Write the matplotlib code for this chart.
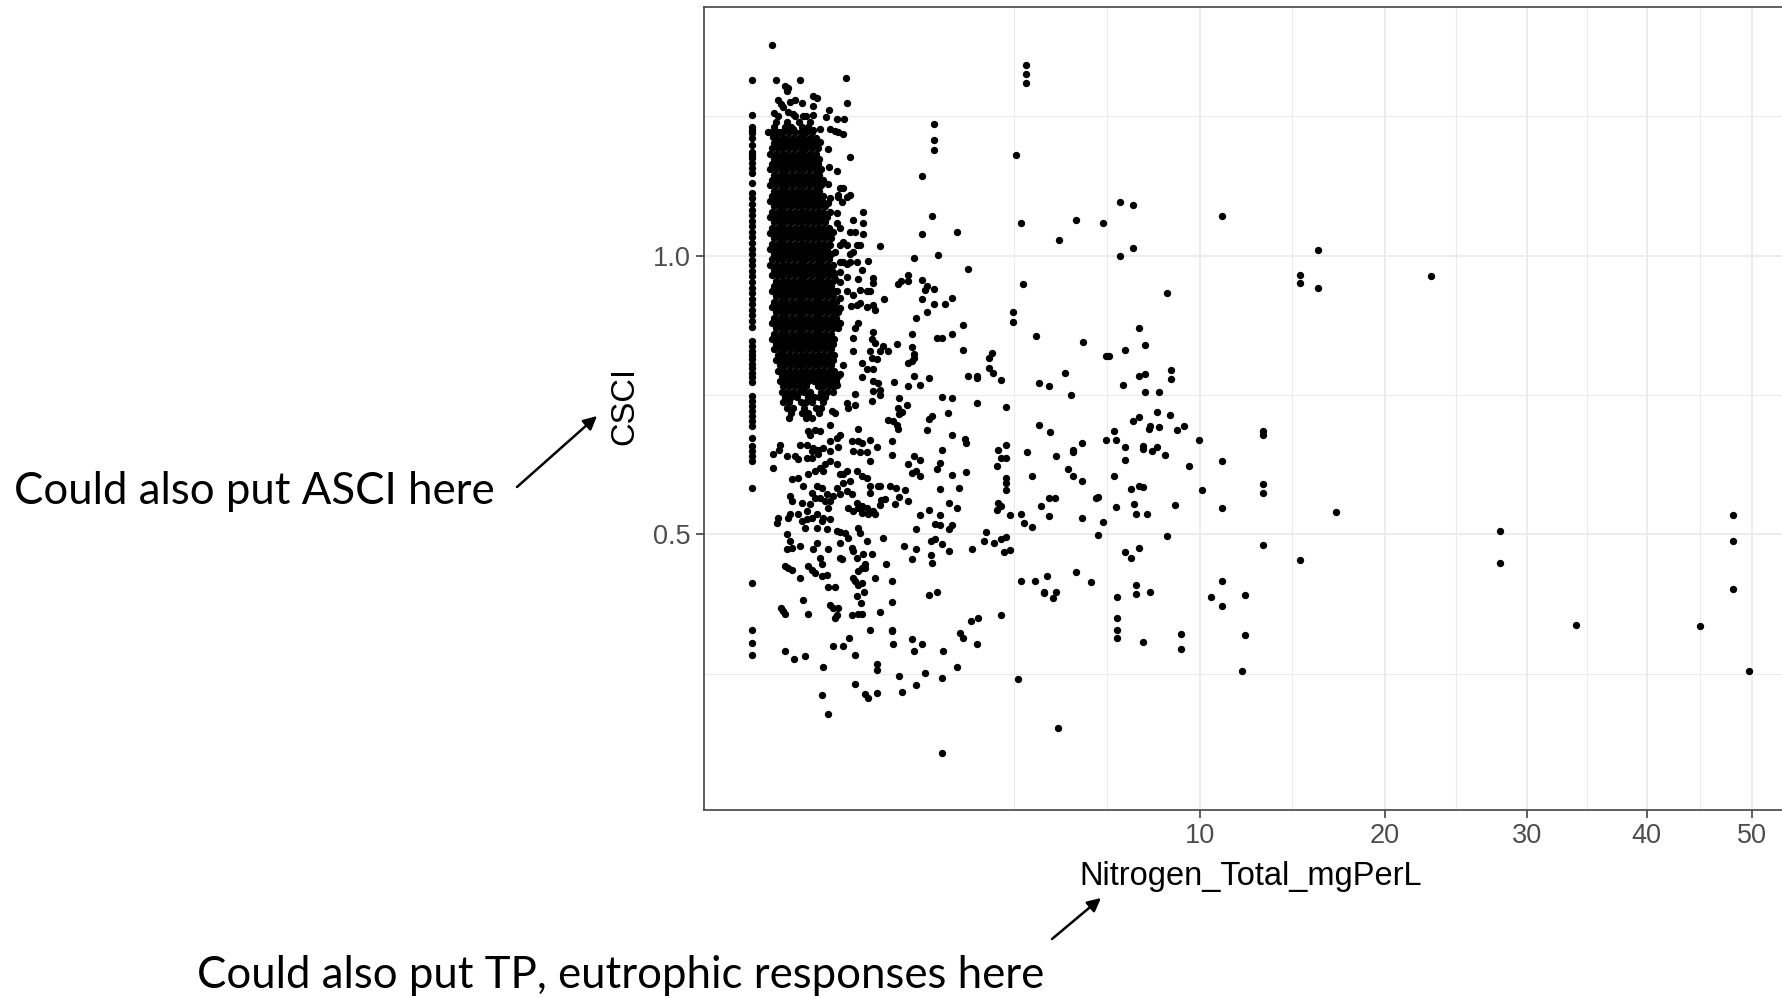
import numpy as np
import matplotlib
matplotlib.use("Agg")
import matplotlib.pyplot as plt

# ---- data (TN in mg/L, CSCI score) ----

# samples with TN reported as 0
zero_csci = [1.316, 1.253, 1.232, 1.226, 1.220, 1.211, 1.199, 1.187, 1.181, 1.175,
             1.166, 1.158, 1.149, 1.131,
             1.113, 1.103, 1.093, 1.083, 1.073, 1.063, 1.053, 1.043, 1.033, 1.023,
             1.013, 1.003, 0.993, 0.983, 0.973, 0.963, 0.953, 0.943, 0.933, 0.923,
             0.913, 0.903, 0.893, 0.883, 0.873,
             0.847, 0.838, 0.830, 0.822, 0.814, 0.806, 0.798, 0.790, 0.782, 0.774,
             0.748, 0.739, 0.730, 0.722, 0.712, 0.703, 0.694, 0.673,
             0.658, 0.649, 0.640, 0.632, 0.583, 0.412, 0.328, 0.306, 0.284]

# dense low-TN cloud, one row per CSCI level
core_rows = [
    (1.2500, [0.032, 0.090, 0.144]),
    (1.2405, [0.028, 0.061, 0.107, 0.166]),
    (1.2310, [0.023, 0.054, 0.075, 0.125, 0.154]),
    (1.2215, [0.020, 0.032, 0.048, 0.068, 0.090, 0.116, 0.144, 0.176]),
    (1.2120, [0.028, 0.043, 0.061, 0.082, 0.107, 0.135, 0.166, 0.200]),
    (1.2025, [0.023, 0.037, 0.054, 0.075, 0.098, 0.125, 0.154, 0.188]),
    (1.1930, [0.020, 0.032, 0.048, 0.068, 0.090, 0.116, 0.144, 0.176, 0.212]),
    (1.1835, [0.016, 0.028, 0.043, 0.061, 0.082, 0.107, 0.135, 0.166, 0.200]),
    (1.1740, [0.023, 0.037, 0.054, 0.075, 0.098, 0.125, 0.154, 0.188, 0.224]),
    (1.1645, [0.020, 0.032, 0.048, 0.068, 0.090, 0.116, 0.144, 0.176, 0.212]),
    (1.1550, [0.016, 0.028, 0.043, 0.061, 0.082, 0.107, 0.135, 0.166, 0.200, 0.237]),
    (1.1455, [0.023, 0.037, 0.054, 0.075, 0.098, 0.125, 0.154, 0.188, 0.224]),
    (1.1360, [0.020, 0.032, 0.048, 0.068, 0.090, 0.116, 0.144, 0.176, 0.212, 0.250]),
    (1.1265, [0.016, 0.028, 0.043, 0.061, 0.082, 0.107, 0.135, 0.166, 0.200, 0.237]),
    (1.1170, [0.023, 0.037, 0.054, 0.075, 0.098, 0.125, 0.154, 0.188, 0.224]),
    (1.1075, [0.020, 0.032, 0.048, 0.068, 0.090, 0.116, 0.144, 0.176, 0.212, 0.250]),
    (1.0980, [0.016, 0.028, 0.043, 0.061, 0.082, 0.107, 0.135, 0.166, 0.200, 0.237]),
    (1.0885, [0.023, 0.037, 0.054, 0.075, 0.098, 0.125, 0.154, 0.188, 0.224, 0.263]),
    (1.0790, [0.020, 0.032, 0.048, 0.068, 0.090, 0.116, 0.144, 0.176, 0.212, 0.250]),
    (1.0695, [0.016, 0.028, 0.043, 0.061, 0.082, 0.107, 0.135, 0.166, 0.200, 0.237, 0.278]),
    (1.0600, [0.023, 0.037, 0.054, 0.075, 0.098, 0.125, 0.154, 0.188, 0.224, 0.263]),
    (1.0505, [0.020, 0.032, 0.048, 0.068, 0.090, 0.116, 0.144, 0.176, 0.212, 0.250, 0.292]),
    (1.0410, [0.016, 0.028, 0.043, 0.061, 0.082, 0.107, 0.135, 0.166, 0.200, 0.237, 0.278]),
    (1.0315, [0.023, 0.037, 0.054, 0.075, 0.098, 0.125, 0.154, 0.188, 0.224, 0.263, 0.306]),
    (1.0220, [0.020, 0.032, 0.048, 0.068, 0.090, 0.116, 0.144, 0.176, 0.212, 0.250, 0.292]),
    (1.0125, [0.016, 0.028, 0.043, 0.061, 0.082, 0.107, 0.135, 0.166, 0.200, 0.237, 0.278]),
    (1.0030, [0.023, 0.037, 0.054, 0.075, 0.098, 0.125, 0.154, 0.188, 0.224, 0.263, 0.306]),
    (0.9935, [0.020, 0.032, 0.048, 0.068, 0.090, 0.116, 0.144, 0.176, 0.212, 0.250, 0.292]),
    (0.9840, [0.016, 0.028, 0.043, 0.061, 0.082, 0.107, 0.135, 0.166, 0.200, 0.237, 0.278, 0.322]),
    (0.9745, [0.023, 0.037, 0.054, 0.075, 0.098, 0.125, 0.154, 0.188, 0.224, 0.263, 0.306]),
    (0.9650, [0.020, 0.032, 0.048, 0.068, 0.090, 0.116, 0.144, 0.176, 0.212, 0.250, 0.292, 0.336]),
    (0.9555, [0.028, 0.043, 0.061, 0.082, 0.107, 0.135, 0.166, 0.200, 0.237, 0.278, 0.322]),
    (0.9460, [0.023, 0.037, 0.054, 0.075, 0.098, 0.125, 0.154, 0.188, 0.224, 0.263, 0.306]),
    (0.9365, [0.020, 0.032, 0.048, 0.068, 0.090, 0.116, 0.144, 0.176, 0.212, 0.250, 0.292, 0.336]),
    (0.9270, [0.028, 0.043, 0.061, 0.082, 0.107, 0.135, 0.166, 0.200, 0.237, 0.278, 0.322]),
    (0.9175, [0.023, 0.037, 0.054, 0.075, 0.098, 0.125, 0.154, 0.188, 0.224, 0.263, 0.306, 0.352]),
    (0.9080, [0.020, 0.032, 0.048, 0.068, 0.090, 0.116, 0.144, 0.176, 0.212, 0.250, 0.292, 0.336]),
    (0.8985, [0.028, 0.043, 0.061, 0.082, 0.107, 0.135, 0.166, 0.200, 0.237, 0.278, 0.322, 0.368]),
    (0.8890, [0.023, 0.037, 0.054, 0.075, 0.098, 0.125, 0.154, 0.188, 0.224, 0.263, 0.306, 0.352]),
    (0.8795, [0.020, 0.032, 0.048, 0.068, 0.090, 0.116, 0.144, 0.176, 0.212, 0.250, 0.292, 0.336, 0.384]),
    (0.8700, [0.028, 0.043, 0.061, 0.082, 0.107, 0.135, 0.166, 0.200, 0.237, 0.278, 0.322, 0.368]),
    (0.8605, [0.023, 0.037, 0.054, 0.075, 0.098, 0.125, 0.154, 0.188, 0.224, 0.263, 0.306]),
    (0.8510, [0.020, 0.032, 0.048, 0.068, 0.090, 0.116, 0.144, 0.176, 0.212, 0.250, 0.292, 0.336]),
    (0.8415, [0.028, 0.043, 0.061, 0.082, 0.107, 0.135, 0.166, 0.200, 0.237, 0.278, 0.322]),
    (0.8320, [0.023, 0.037, 0.054, 0.075, 0.098, 0.125, 0.154, 0.188, 0.224, 0.263, 0.306]),
    (0.8225, [0.032, 0.048, 0.068, 0.090, 0.116, 0.144, 0.176, 0.212, 0.250, 0.292, 0.336]),
    (0.8130, [0.028, 0.043, 0.061, 0.082, 0.107, 0.135, 0.166, 0.200, 0.237, 0.278, 0.322]),
    (0.8035, [0.037, 0.054, 0.075, 0.098, 0.125, 0.154, 0.188, 0.224, 0.263, 0.306]),
    (0.7940, [0.032, 0.048, 0.068, 0.090, 0.116, 0.144, 0.176, 0.212, 0.250, 0.292, 0.336]),
    (0.7845, [0.043, 0.061, 0.082, 0.107, 0.135, 0.166, 0.200, 0.237, 0.278, 0.322, 0.368]),
    (0.7750, [0.037, 0.054, 0.075, 0.098, 0.125, 0.154, 0.188, 0.224, 0.263, 0.306, 0.352]),
    (0.7655, [0.048, 0.068, 0.090, 0.116, 0.144, 0.212, 0.250, 0.292, 0.336]),
    (0.7560, [0.043, 0.061, 0.082, 0.107, 0.135, 0.166, 0.237, 0.278, 0.322]),
    (0.7465, [0.054, 0.075, 0.098, 0.154, 0.188, 0.224, 0.263]),
    (0.7370, [0.048, 0.068, 0.116, 0.144, 0.176, 0.250]),
    (0.7275, [0.061, 0.082, 0.135, 0.200, 0.237]),
    (0.7180, [0.075, 0.125, 0.154, 0.224]),
    (0.7085, [0.068, 0.144, 0.176]),
]

# points around the dense cloud (TN < 1 mg/L)
near_pts = [
    (0.020, 1.378), (0.028, 1.316), (0.114, 1.316), (0.437, 1.319), (0.053, 1.305),
    (0.064, 1.301), (0.058, 1.295), (0.032, 1.279), (0.042, 1.273), (0.048, 1.267),
    (0.070, 1.276), (0.090, 1.279), (0.121, 1.274), (0.064, 1.258), (0.083, 1.255),
    (0.024, 1.256), (0.181, 1.286), (0.211, 1.283), (0.181, 1.268), (0.181, 1.253),
    (0.450, 1.274), (0.130, 1.251), (0.295, 1.261), (0.270, 1.249), (0.354, 1.245),
    (0.421, 1.245), (0.228, 1.228), (0.185, 1.225), (0.300, 1.228), (0.340, 1.224),
    (0.368, 1.222), (0.0125, 1.222), (0.0216, 1.213), (0.042, 1.222), (0.083, 1.228),
    (0.412, 1.219), (0.228, 1.204), (0.283, 1.191), (0.475, 1.177), (0.295, 1.160),
    (0.354, 1.152), (0.287, 1.128), (0.383, 1.121), (0.412, 1.121), (0.368, 1.109),
    (0.444, 1.106), (0.475, 1.109), (0.607, 1.079), (0.607, 1.058), (0.508, 1.064),
    (0.525, 1.043), (0.607, 1.040), (0.475, 1.043), (0.300, 1.103), (0.368, 1.106),
    (0.397, 1.097), (0.287, 1.094), (0.300, 1.079), (0.354, 1.076), (0.251, 1.097),
    (0.354, 1.058), (0.383, 1.049), (0.326, 1.043), (0.287, 1.037), (0.300, 1.019),
    (0.340, 1.007), (0.383, 1.019), (0.412, 1.025), (0.444, 1.019), (0.475, 1.004),
    (0.508, 1.007), (0.543, 1.019), (0.578, 1.019), (0.383, 0.989), (0.412, 0.989),
    (0.444, 0.986), (0.475, 0.989), (0.543, 0.989), (0.670, 0.990), (0.326, 0.971),
    (0.383, 0.971), (0.340, 0.959), (0.383, 0.953), (0.444, 0.962), (0.560, 0.959),
    (0.596, 0.974), (0.721, 0.961), (0.721, 0.952), (0.690, 0.937), (0.300, 0.942),
    (0.354, 0.936), (0.383, 0.924), (0.444, 0.936), (0.508, 0.930), (0.578, 0.939),
    (0.651, 0.936), (0.314, 0.912), (0.383, 0.906), (0.543, 0.912), (0.651, 0.909),
    (0.729, 0.912),
    (0.482, 0.910), (0.578, 0.916), (0.750, 0.902), (0.560, 0.880), (0.525, 0.871),
    (0.729, 0.864), (0.508, 0.852), (0.711, 0.850), (0.752, 0.844), (0.856, 0.838),
    (0.923, 0.829), (0.814, 0.829), (1.040, 0.842), (0.690, 0.829), (0.711, 0.817),
    (0.771, 0.814), (0.508, 0.829), (0.596, 0.807), (0.651, 0.796), (0.729, 0.796),
    (0.412, 0.804), (0.326, 0.793), (0.383, 0.787), (0.354, 0.769), (0.596, 0.782),
    (0.729, 0.775), (0.792, 0.772), (0.814, 0.760), (0.729, 0.757), (1.000, 0.774),
    (0.525, 0.752), (0.711, 0.739), (0.444, 0.736), (0.460, 0.727), (0.525, 0.733),
    (0.314, 0.721), (0.340, 0.717), (0.923, 0.706), (0.992, 0.703), (1.040, 0.697),
    (1.060, 0.727), (0.560, 0.690), (0.300, 0.697), (0.228, 0.685), (0.195, 0.688),
    (0.156, 0.685), (0.491, 0.667), (0.560, 0.667), (0.596, 0.664), (0.690, 0.670),
    (0.508, 0.650), (0.578, 0.647), (0.651, 0.647), (0.771, 0.656), (0.300, 0.667),
    (0.300, 0.650), (0.383, 0.679), (0.354, 0.673), (0.368, 0.656), (0.251, 0.655),
    (0.217, 0.652), (0.038, 0.661), (0.036, 0.652), (0.0216, 0.644), (0.058, 0.641),
    (0.0216, 0.620), (0.090, 0.641), (0.105, 0.635), (0.147, 0.638), (0.113, 0.661),
    (0.147, 0.661), (0.185, 0.655), (0.166, 0.679), (0.176, 0.650), (0.217, 0.644),
    (0.176, 0.638), (0.300, 0.632), (0.263, 0.626), (0.228, 0.620), (0.251, 0.614),
    (0.195, 0.614), (0.156, 0.608), (0.354, 0.626), (0.383, 0.608), (0.412, 0.608),
    (0.444, 0.614), (0.543, 0.614), (0.596, 0.605), (0.651, 0.602), (0.690, 0.632),
    (0.077, 0.599), (0.129, 0.587), (0.105, 0.602), (0.206, 0.587), (0.239, 0.584),
    (0.275, 0.572), (0.228, 0.566), (0.263, 0.560), (0.300, 0.560), (0.326, 0.569),
    (0.287, 0.548), (0.176, 0.575), (0.195, 0.566), (0.166, 0.554), (0.147, 0.542),
    (0.121, 0.557), (0.070, 0.569), (0.077, 0.560), (0.354, 0.584), (0.383, 0.572),
    (0.444, 0.578), (0.491, 0.572), (0.475, 0.596), (0.412, 0.593), (0.690, 0.587),
    (0.690, 0.575), (0.792, 0.587), (0.543, 0.557), (0.596, 0.551), (0.651, 0.548),
    (0.729, 0.542), (0.750, 0.536), (0.670, 0.536), (0.596, 0.539), (0.560, 0.548),
    (0.460, 0.548), (0.508, 0.542), (0.070, 0.536), (0.064, 0.530), (0.033, 0.530),
    (0.029, 0.521), (0.105, 0.536), (0.147, 0.527), (0.176, 0.530), (0.206, 0.536),
    (0.251, 0.530), (0.300, 0.527), (0.121, 0.524), (0.239, 0.524), (0.138, 0.512),
    (0.206, 0.511), (0.280, 0.509), (0.354, 0.506), (0.383, 0.505), (0.428, 0.503),
    (0.460, 0.494), (0.560, 0.512), (0.578, 0.503), (0.058, 0.500), (0.070, 0.488),
    (0.077, 0.476), (0.058, 0.473), (0.113, 0.479), (0.206, 0.485), (0.185, 0.473),
    (0.228, 0.458), (0.239, 0.446), (0.287, 0.473), (0.383, 0.485), (0.383, 0.458),
    (0.397, 0.455), (0.491, 0.476), (0.508, 0.470), (0.543, 0.458), (0.651, 0.489),
    (0.711, 0.464), (0.615, 0.464), (0.632, 0.446), (0.053, 0.443), (0.064, 0.440),
    (0.077, 0.437), (0.156, 0.443), (0.176, 0.437), (0.195, 0.431), (0.239, 0.425),
    (0.275, 0.428), (0.560, 0.434), (0.596, 0.440), (0.632, 0.440), (0.113, 0.422),
    (0.508, 0.422), (0.750, 0.422),
    (0.287, 0.405), (0.340, 0.405), (0.525, 0.416), (0.560, 0.410), (0.596, 0.413),
    (0.543, 0.389), (0.626, 0.396), (0.585, 0.377), (0.129, 0.383), (0.042, 0.368),
    (0.048, 0.362), (0.053, 0.358), (0.156, 0.358), (0.300, 0.374), (0.326, 0.368),
    (0.368, 0.368), (0.354, 0.356), (0.340, 0.350), (0.491, 0.356), (0.560, 0.358),
    (0.596, 0.358), (0.053, 0.290), (0.086, 0.276), (0.138, 0.281), (0.326, 0.300),
    (0.412, 0.300), (0.465, 0.314), (0.525, 0.284), (0.690, 0.328), (0.251, 0.262),
    (0.771, 0.268), (0.771, 0.257), (0.525, 0.232), (0.239, 0.212), (0.632, 0.214),
    (0.670, 0.206), (0.771, 0.215), (0.282, 0.178),
]

# sparser points, TN roughly 0.8 - 6 mg/L
mid_pts = [
    (3.75, 1.343), (3.75, 1.327), (3.75, 1.311),
    (1.65, 1.237), (1.65, 1.207), (1.65, 1.190), (1.44, 1.144), (3.48, 1.181),
    (1.62, 1.072), (1.44, 1.040), (2.10, 1.043), (3.61, 1.059), (5.23, 1.065),
    (4.70, 1.029), (0.81, 1.018), (1.31, 0.996), (1.73, 1.002), (2.32, 0.977),
    (3.65, 0.950), (1.21, 0.966), (1.21, 0.955), (1.06, 0.950), (1.10, 0.955),
    (1.44, 0.957), (1.49, 0.938), (1.52, 0.945), (1.65, 0.941), (0.86, 0.922),
    (1.44, 0.922), (1.65, 0.914), (1.85, 0.914), (2.00, 0.925), (1.52, 0.900),
    (1.34, 0.889), (3.40, 0.900), (3.40, 0.881), (2.22, 0.875), (1.28, 0.859),
    (2.00, 0.859), (1.70, 0.853), (1.80, 0.853), (1.28, 0.837), (1.31, 0.823),
    (1.31, 0.816), (1.21, 0.807), (1.27, 0.811), (2.22, 0.831), (2.88, 0.826),
    (2.80, 0.816), (2.80, 0.799), (2.90, 0.790), (3.10, 0.777), (4.02, 0.856),
    (5.47, 0.846), (4.89, 0.790), (4.11, 0.771), (4.39, 0.766), (5.07, 0.750),
    (1.21, 0.766), (1.31, 0.785), (1.41, 0.769), (1.55, 0.780), (2.32, 0.785),
    (2.51, 0.784), (2.51, 0.780), (1.80, 0.747), (2.00, 0.744), (2.51, 0.736),
    (3.21, 0.728), (1.19, 0.732), (1.12, 0.719), (1.52, 0.687), (1.55, 0.708),
    (1.61, 0.713), (1.92, 0.717), (2.00, 0.678), (2.26, 0.672), (4.11, 0.696),
    (4.43, 0.684), (0.81, 0.750), (1.08, 0.745), (1.08, 0.716), (1.06, 0.689),
    (2.29, 0.664), (0.97, 0.667), (0.97, 0.642), (1.21, 0.626), (1.31, 0.640),
    (1.41, 0.634), (1.28, 0.610), (1.34, 0.613), (1.41, 0.604), (1.80, 0.651),
    (1.76, 0.628), (1.70, 0.617), (2.00, 0.607), (2.29, 0.612), (2.13, 0.584),
    (1.76, 0.581), (0.81, 0.587), (0.95, 0.587), (1.03, 0.584), (1.17, 0.579),
    (1.08, 0.567), (1.21, 0.560), (1.01, 0.554), (0.83, 0.561), (0.88, 0.564),
    (0.81, 0.552), (1.55, 0.543), (1.41, 0.534), (1.76, 0.534), (1.94, 0.557),
    (2.10, 0.548), (1.67, 0.519), (1.76, 0.516), (1.94, 0.510), (2.00, 0.517),
    (1.34, 0.510), (2.98, 0.623), (3.02, 0.651), (3.21, 0.661), (3.10, 0.637),
    (3.21, 0.637), (3.21, 0.601), (3.21, 0.592), (3.21, 0.579), (3.02, 0.557),
    (3.10, 0.551), (2.98, 0.543), (3.32, 0.535), (3.61, 0.537), (3.69, 0.521),
    (3.91, 0.513), (3.77, 0.648), (3.91, 0.604), (4.17, 0.551), (4.39, 0.533),
    (4.39, 0.565), (4.57, 0.565), (4.62, 0.640), (4.99, 0.617), (5.13, 0.652),
    (5.13, 0.648), (5.13, 0.604), (5.43, 0.664), (5.43, 0.595), (5.43, 0.530),
    (5.89, 0.565), (5.98, 0.567), (5.98, 0.499), (0.85, 0.494), (1.15, 0.480),
    (1.34, 0.474), (1.60, 0.488), (1.67, 0.491), (1.80, 0.483), (1.94, 0.471),
    (1.60, 0.463), (1.62, 0.449), (1.28, 0.455), (2.42, 0.474), (2.69, 0.488),
    (2.73, 0.505), (2.91, 0.485), (3.10, 0.491), (3.21, 0.496), (3.17, 0.469),
    (3.32, 0.472), (0.89, 0.446), (0.97, 0.416), (0.97, 0.378), (0.81, 0.361),
    (1.55, 0.392), (1.70, 0.397), (3.61, 0.416), (3.99, 0.416), (4.34, 0.425),
    (4.25, 0.397), (4.25, 0.394), (4.52, 0.386), (4.62, 0.397), (5.23, 0.433),
    (5.73, 0.414), (3.10, 0.356), (2.38, 0.345), (2.55, 0.350), (2.15, 0.323),
    (2.22, 0.314), (2.51, 0.304), (0.97, 0.328), (0.97, 0.326), (0.99, 0.304),
    (1.28, 0.312), (1.31, 0.290), (1.44, 0.304), (1.82, 0.290), (1.08, 0.245),
    (1.12, 0.218), (1.34, 0.229), (1.49, 0.251), (1.80, 0.243), (2.10, 0.262),
    (3.52, 0.240), (4.66, 0.152), (1.80, 0.108),
]

# high-TN points, TN > 6 mg/L
high_pts = [
    (6.77, 1.096), (7.23, 1.091), (6.16, 1.058), (11.04, 1.072), (6.77, 1.000),
    (7.23, 1.014), (15.0, 0.965), (15.0, 0.952), (8.58, 0.933), (7.46, 0.870),
    (7.71, 0.840), (6.93, 0.831), (6.26, 0.821), (6.37, 0.821), (8.76, 0.795),
    (8.76, 0.779), (7.46, 0.785), (7.71, 0.787), (6.87, 0.768), (7.71, 0.755),
    (8.26, 0.755), (8.20, 0.719), (8.70, 0.714), (7.23, 0.703), (7.46, 0.711),
    (6.54, 0.686), (6.25, 0.670), (6.62, 0.670), (7.90, 0.695), (7.85, 0.689),
    (8.26, 0.692), (9.00, 0.687), (9.30, 0.695), (9.97, 0.670), (6.93, 0.656),
    (7.64, 0.659), (7.64, 0.653), (8.00, 0.649), (8.20, 0.656), (8.50, 0.643),
    (6.93, 0.634), (9.54, 0.623), (11.04, 0.632), (13.05, 0.686), (13.05, 0.678),
    (6.54, 0.604), (7.16, 0.582), (7.46, 0.587), (7.64, 0.585), (10.1, 0.580),
    (13.05, 0.591), (13.05, 0.574), (6.62, 0.549), (7.29, 0.555), (7.35, 0.536),
    (7.78, 0.536), (8.93, 0.552), (11.04, 0.547), (6.16, 0.522), (8.58, 0.497),
    (13.05, 0.481), (15.0, 0.454), (6.93, 0.468), (7.16, 0.457), (7.46, 0.476),
    (7.35, 0.410), (7.35, 0.393), (7.90, 0.397), (6.66, 0.388), (11.04, 0.416),
    (10.5, 0.388), (11.04, 0.371), (12.14, 0.392), (6.66, 0.350), (6.66, 0.328),
    (6.66, 0.314), (7.64, 0.307), (9.19, 0.322), (9.19, 0.295), (12.14, 0.320),
    (11.98, 0.254),
    (15.99, 1.010), (15.99, 0.943), (22.99, 0.963), (17.03, 0.541), (27.93, 0.506),
    (27.93, 0.449), (33.92, 0.337), (44.9, 0.335), (48.1, 0.535), (48.1, 0.488),
    (48.1, 0.402), (49.66, 0.255),
]

x_ticks = [10, 20, 30, 40, 50]
x_minor = [3.432, 6.287, 14.571, 24.747, 34.821, 44.861]
y_ticks = [0.5, 1.0]
y_minor = [0.25, 0.75, 1.25]

# ---- assemble ----
tn, csci = [], []
for c in zero_csci:
    tn.append(0.0)
    csci.append(c)
for c, row in core_rows:
    for v in row:
        tn.append(v)
        csci.append(c)
for v, c in near_pts + mid_pts + high_pts:
    tn.append(v)
    csci.append(c)
tn = np.array(tn)
csci = np.array(csci)


def fwd(x):
    return np.sign(x) * np.sqrt(np.abs(x))


def inv(y):
    return np.sign(y) * y ** 2


W, H = 1783, 998
fig = plt.figure(figsize=(W / 100, H / 100), dpi=100)
ax = fig.add_axes([704 / W, 1 - 810 / H, 1095 / W, 803 / H])

ax.set_xscale("function", functions=(fwd, inv))
ax.scatter(tn, csci, s=28, c="black", linewidths=0, zorder=3)

ax.set_xlim(-0.1176, 54.77)
ax.set_ylim(0.0054, 1.4465)

ax.set_xticks(x_ticks)
ax.set_xticklabels([str(t) for t in x_ticks])
ax.set_xticks(x_minor, minor=True)
ax.set_yticks(y_ticks)
ax.set_yticklabels(["0.5", "1.0"])
ax.set_yticks(y_minor, minor=True)

ax.set_axisbelow(True)
ax.grid(which="major", color="#EBEBEB", linewidth=1.3)
ax.grid(which="minor", color="#EBEBEB", linewidth=0.8)

for side in ["left", "top", "bottom", "right"]:
    ax.spines[side].set_color("#444444")
    ax.spines[side].set_linewidth(1.2)

ax.tick_params(which="major", direction="out", length=5.5, width=1.1,
               color="#333333", labelcolor="#4D4D4D", labelsize=19.5)
ax.tick_params(axis="x", which="major", pad=4)
ax.tick_params(axis="y", which="major", pad=4)
ax.tick_params(which="minor", length=0)
for lab in ax.get_xticklabels() + ax.get_yticklabels():
    lab.set_family("Liberation Sans")

fig.text(625 / W, 1 - 406 / H, "CSCI", rotation=90, ha="center", va="center",
         fontsize=23.5, family="Liberation Sans", color="black")
fig.text(1251 / W, 1 - 876 / H, "Nitrogen_Total_mgPerL", ha="center", va="center",
         fontsize=23.5, family="Liberation Sans", color="black")

# slide annotations
fig.text(14 / W, 1 - 491 / H, "Could also put ASCI here", ha="left", va="center",
         fontsize=31.5, family="Lato", color="black")
fig.text(197 / W, 1 - 976 / H, "Could also put TP, eutrophic responses here",
         ha="left", va="center", fontsize=31.5, family="Lato", color="black")

arrow = dict(arrowstyle="-|>", lw=1.8, color="black", mutation_scale=20,
             shrinkA=0, shrinkB=0)
ax.annotate("", xy=(597, H - 416), xycoords="figure pixels",
            xytext=(517, H - 487), textcoords="figure pixels",
            arrowprops=arrow, annotation_clip=False)
ax.annotate("", xy=(1101, H - 898), xycoords="figure pixels",
            xytext=(1052, H - 939), textcoords="figure pixels",
            arrowprops=arrow, annotation_clip=False)

fig.savefig("out.png", dpi=100)
